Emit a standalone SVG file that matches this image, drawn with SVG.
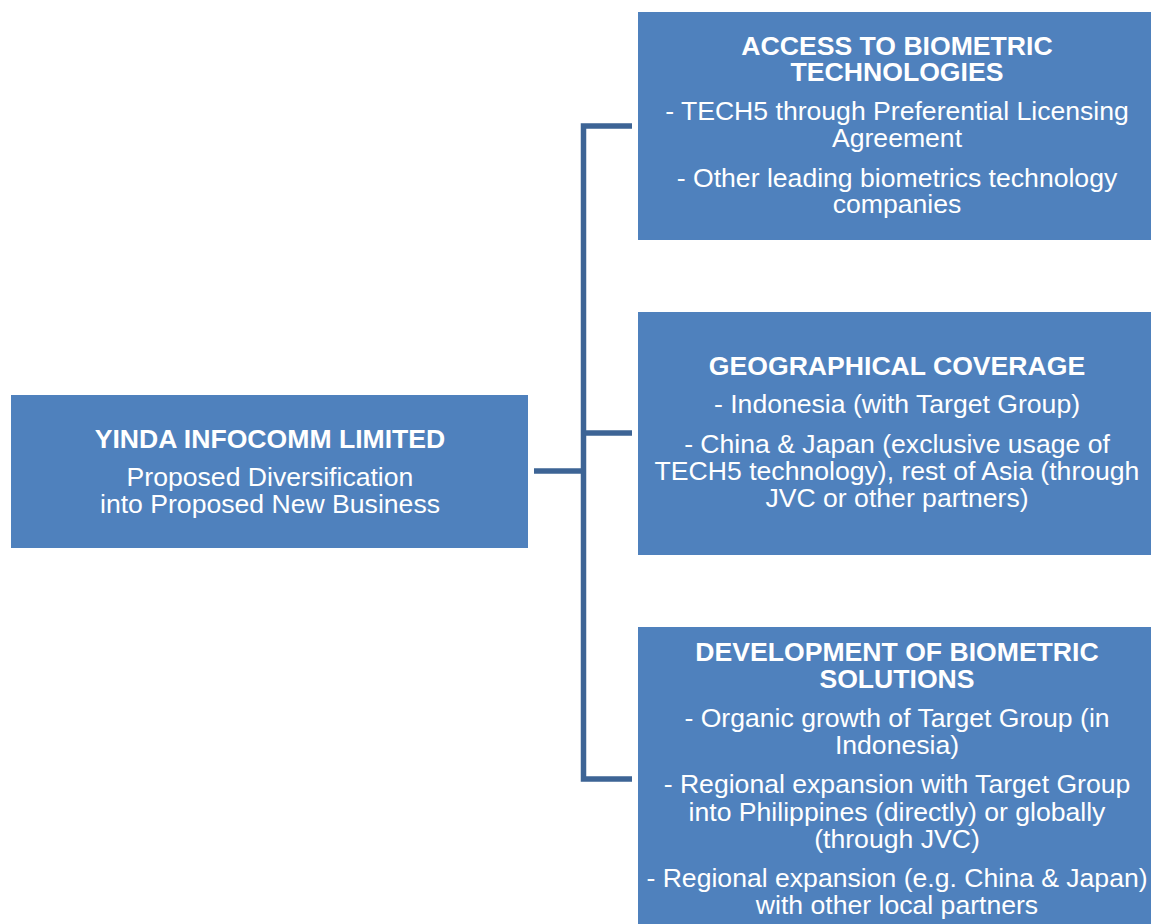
<svg xmlns="http://www.w3.org/2000/svg" width="1151" height="924" viewBox="0 0 1151 924">
<style>
.box{fill:#4f81bd;}
.t{font-family:"Liberation Sans",Arial,sans-serif;font-size:26.6px;fill:#ffffff;text-anchor:middle;}
.b{font-weight:bold;}
.c{fill:none;stroke:#3d6495;stroke-width:5.5;stroke-linejoin:miter;}
</style>
<rect width="1151" height="924" fill="#ffffff"/>
<g id="connectors">
<path class="c" d="M632,126 H583.5 V779 H632"/>
<path class="c" d="M583.5,433 H632"/>
<path class="c" d="M534,471 H583.5"/>
</g>
<g id="root">
<rect class="box" x="11" y="395" width="517" height="153"/>
<text class="t b" x="270" y="448">YINDA INFOCOMM LIMITED</text>
<text class="t" x="270" y="486">Proposed Diversification</text>
<text class="t" x="270" y="513">into Proposed New Business</text>
</g>
<g id="access">
<rect class="box" x="638" y="12" width="520" height="228"/>
<text class="t b" x="897" y="55">ACCESS TO BIOMETRIC</text>
<text class="t b" x="897" y="81">TECHNOLOGIES</text>
<text class="t" x="897" y="120">- TECH5 through Preferential Licensing</text>
<text class="t" x="897" y="147">Agreement</text>
<text class="t" x="897" y="187">- Other leading biometrics technology</text>
<text class="t" x="897" y="213">companies</text>
</g>
<g id="geo">
<rect class="box" x="638" y="312" width="520" height="243"/>
<text class="t b" x="897" y="375">GEOGRAPHICAL COVERAGE</text>
<text class="t" x="897" y="413">- Indonesia (with Target Group)</text>
<text class="t" x="897" y="453">- China &amp; Japan (exclusive usage of</text>
<text class="t" x="897" y="480">TECH5 technology), rest of Asia (through</text>
<text class="t" x="897" y="507">JVC or other partners)</text>
</g>
<g id="dev">
<rect class="box" x="638" y="627" width="520" height="310"/>
<text class="t b" x="897" y="661">DEVELOPMENT OF BIOMETRIC</text>
<text class="t b" x="897" y="688">SOLUTIONS</text>
<text class="t" x="897" y="727">- Organic growth of Target Group (in</text>
<text class="t" x="897" y="754">Indonesia)</text>
<text class="t" x="897" y="793">- Regional expansion with Target Group</text>
<text class="t" x="897" y="821">into Philippines (directly) or globally</text>
<text class="t" x="897" y="848">(through JVC)</text>
<text class="t" x="897" y="887">- Regional expansion (e.g. China &amp; Japan)</text>
<text class="t" x="897" y="914">with other local partners</text>
</g>
</svg>
